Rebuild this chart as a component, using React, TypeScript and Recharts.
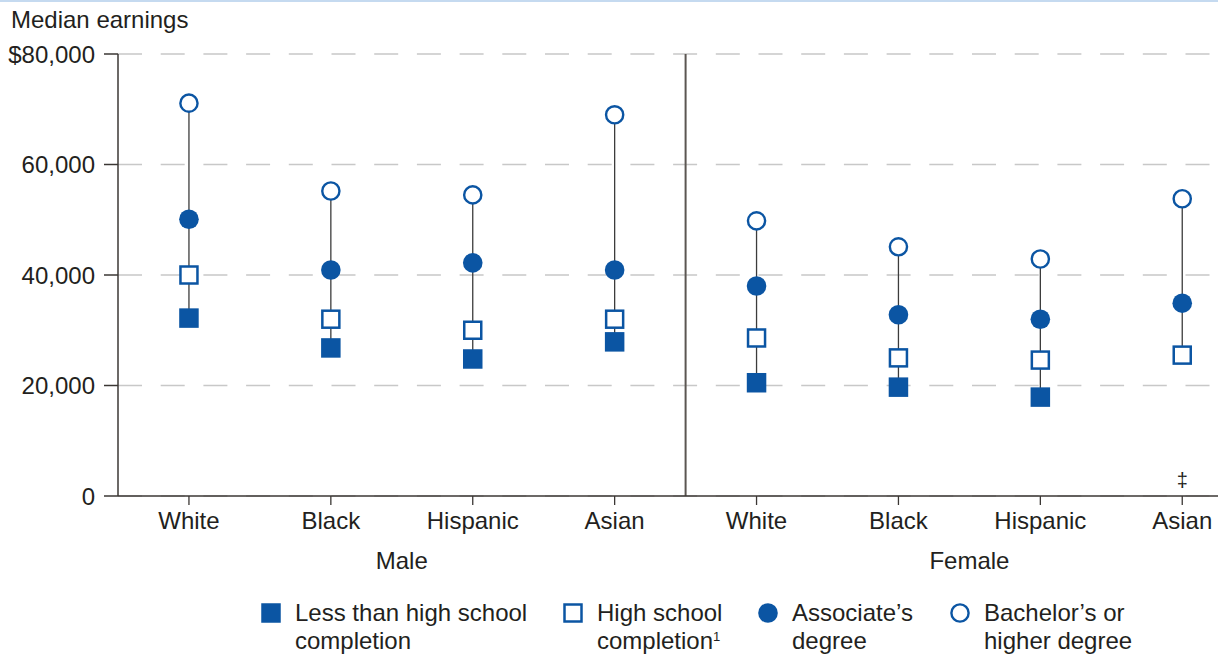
import { ScatterChart, Scatter, XAxis, YAxis, CartesianGrid, ReferenceLine } from "recharts";

const groups = ["Male", "Female"];
const races = ["White", "Black", "Hispanic", "Asian"];
// median earnings by category: Male White..Asian, then Female White..Asian
const lessThanHS = [32200, 26800, 24800, 27900, 20500, 19700, 17900, null];
const highSchool = [40000, 32000, 30000, 32000, 28600, 25000, 24600, 25500];
const associate = [50100, 40900, 42200, 40900, 38000, 32800, 32000, 34900];
const bachelor = [71100, 55200, 54500, 69000, 49800, 45100, 42900, 53800];
const notes = ["", "", "", "", "", "", "", "‡"];
const yTicks = [0, 20000, 40000, 60000, 80000];

const BLUE = "#0b55a3";
const INK = "#231f20";
const AXIS = "#3b3734";
const FONT = '"Liberation Sans", Arial, Helvetica, sans-serif';
const FS = 24;

const catTicks = races.concat(races).map((_, i) => i + 0.5);
const toPoints = (vals: (number | null)[]) =>
  vals.map((v, i) => ({ x: i + 0.5, y: v })).filter((p) => p.y !== null);

const ranges = catTicks.map((x, i) => {
  const vals = [lessThanHS[i], highSchool[i], associate[i], bachelor[i]].filter((v) => v !== null) as number[];
  return [
    { x, y: Math.min(...vals) },
    { x, y: Math.max(...vals) },
  ];
});
const noteData = notes.map((n, i) => ({ x: i + 0.5, y: 0, note: n })).filter((d) => d.note);

const FilledSquare = (p: any) => <rect x={p.cx - 9.75} y={p.cy - 9.75} width={19.5} height={19.5} fill={BLUE} />;
const OpenSquare = (p: any) => (
  <rect x={p.cx - 8.5} y={p.cy - 8.5} width={17} height={17} fill="#fff" stroke={BLUE} strokeWidth={2.5} />
);
const FilledCircle = (p: any) => <circle cx={p.cx} cy={p.cy} r={9.8} fill={BLUE} />;
const OpenCircle = (p: any) => <circle cx={p.cx} cy={p.cy} r={8.6} fill="#fff" stroke={BLUE} strokeWidth={2.4} />;
const NoteMark = (p: any) => (
  <text x={p.cx} y={p.cy - 9} textAnchor="middle" fontSize={20} fontFamily={FONT} fill={INK}>
    {p.payload.note}
  </text>
);
const NoShape = () => <g />;

const fmtY = (v: number) => (v === 0 ? "0" : (v === 80000 ? "$" : "") + v.toLocaleString("en-US"));

const legendItems = [
  { shape: "fsq", left: 261, lines: ["Less than high school", "completion"], sup: false },
  { shape: "osq", left: 563, lines: ["High school", "completion"], sup: true },
  { shape: "fci", left: 758, lines: ["Associate’s", "degree"], sup: false },
  { shape: "oci", left: 950, lines: ["Bachelor’s or", "higher degree"], sup: false },
];

function LegendMarker({ shape }: { shape: string }) {
  return (
    <svg width={20} height={20} style={{ display: "block" }}>
      {shape === "fsq" && <FilledSquare cx={10} cy={10} />}
      {shape === "osq" && <OpenSquare cx={10} cy={10} />}
      {shape === "fci" && <FilledCircle cx={10} cy={10} />}
      {shape === "oci" && <OpenCircle cx={10} cy={10} />}
    </svg>
  );
}

export default function App() {
  const tickStyle = { fill: INK, fontSize: FS, fontFamily: FONT };
  return (
    <div style={{ position: "absolute", left: 0, top: 0, width: 1218, height: 659, background: "#fff", overflow: "hidden", fontFamily: FONT, color: INK }}>
      <div style={{ position: "absolute", left: 0, top: 0, width: 1218, height: 2, background: "#c5daf0" }} />
      <div style={{ position: "absolute", left: 11, top: 6, fontSize: FS, lineHeight: "27.5px", whiteSpace: "nowrap" }}>
        Median earnings
      </div>

      <ScatterChart width={1218} height={659} margin={{ top: 54, right: 0, bottom: 83, left: 0 }}>
        <CartesianGrid vertical={false} stroke="#c8c8c8" strokeWidth={1.3} strokeDasharray="24 18.7" />
        <XAxis
          xAxisId="cat"
          type="number"
          dataKey="x"
          domain={[0, 7.752]}
          ticks={catTicks}
          interval={0}
          allowDataOverflow
          tickFormatter={(v: number) => races[Math.floor(v) % 4]}
          height={40}
          tickSize={9}
          tickMargin={7}
          axisLine={{ stroke: AXIS, strokeWidth: 1.5 }}
          tickLine={{ stroke: AXIS, strokeWidth: 1.3 }}
          tick={tickStyle}
        />
        <XAxis
          xAxisId="grp"
          type="number"
          dataKey="x"
          domain={[0, 7.752]}
          ticks={[2, 6]}
          interval={0}
          allowDataOverflow
          tickFormatter={(v: number) => groups[v < 4 ? 0 : 1]}
          height={40}
          axisLine={false}
          tickLine={false}
          tickSize={0}
          tickMargin={16}
          tick={tickStyle}
        />
        <YAxis
          type="number"
          dataKey="y"
          domain={[0, 80000]}
          ticks={yTicks}
          interval={0}
          width={118}
          tickSize={14}
          tickMargin={9}
          tickFormatter={fmtY}
          axisLine={{ stroke: AXIS, strokeWidth: 1.5 }}
          tickLine={{ stroke: AXIS, strokeWidth: 1.5 }}
          tick={tickStyle}
        />
        <ReferenceLine xAxisId="cat" x={4} stroke="#5b5652" strokeWidth={2} />

        {ranges.map((r, i) => (
          <Scatter
            key={"r" + i}
            xAxisId="cat"
            data={r}
            line={{ stroke: "#3c3c3c", strokeWidth: 1.3 }}
            lineType="joint"
            shape={NoShape}
            isAnimationActive={false}
          />
        ))}
        <Scatter xAxisId="cat" data={toPoints(lessThanHS)} shape={FilledSquare} isAnimationActive={false} />
        <Scatter xAxisId="cat" data={toPoints(highSchool)} shape={OpenSquare} isAnimationActive={false} />
        <Scatter xAxisId="cat" data={toPoints(associate)} shape={FilledCircle} isAnimationActive={false} />
        <Scatter xAxisId="cat" data={toPoints(bachelor)} shape={OpenCircle} isAnimationActive={false} />
        <Scatter xAxisId="cat" data={noteData} shape={NoteMark} isAnimationActive={false} />
      </ScatterChart>

      {legendItems.map((it) => (
        <div key={it.shape}>
          <div style={{ position: "absolute", left: it.left - 0.5, top: 603 }}>
            <LegendMarker shape={it.shape} />
          </div>
          <div style={{ position: "absolute", left: it.left + 34, top: 599, fontSize: FS, lineHeight: "27.5px", whiteSpace: "nowrap" }}>
            {it.lines[0]}
            <br />
            {it.lines[1]}
            {it.sup && <span style={{ fontSize: 13, verticalAlign: "top", lineHeight: "20px" }}>1</span>}
          </div>
        </div>
      ))}
    </div>
  );
}
